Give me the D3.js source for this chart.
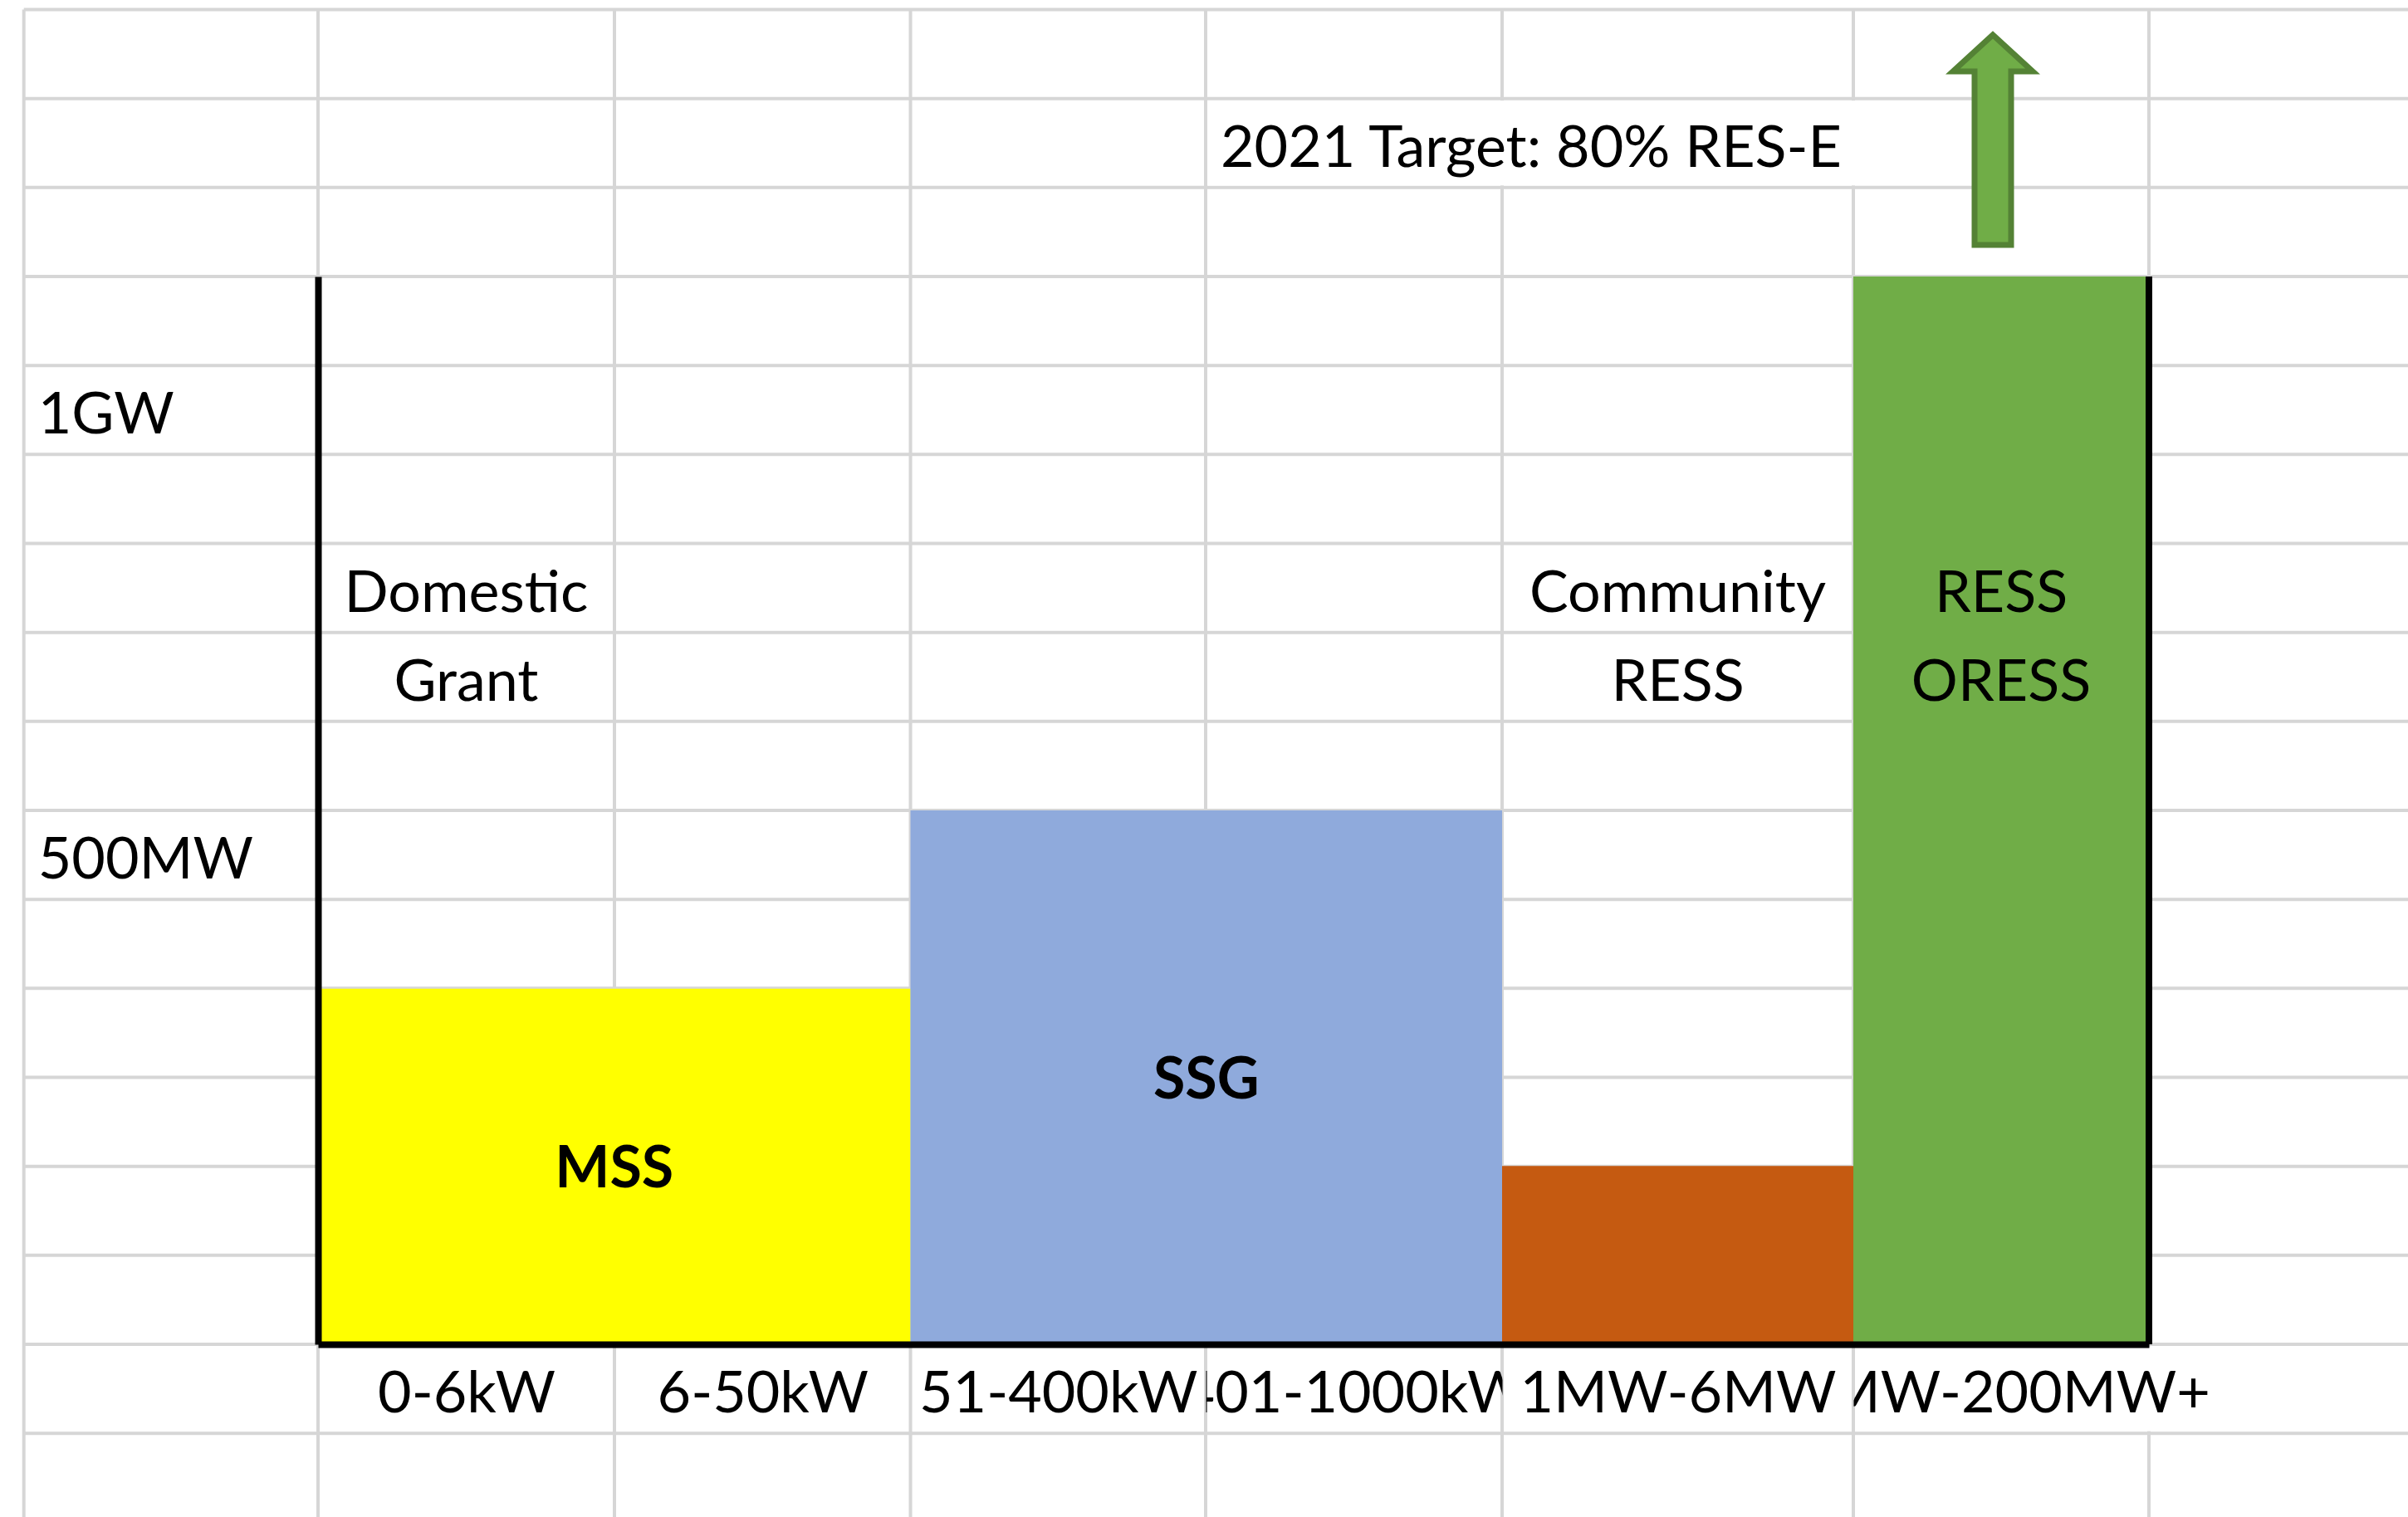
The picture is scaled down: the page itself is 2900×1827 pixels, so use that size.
<!DOCTYPE html>
<html>
<head>
<meta charset="utf-8">
<script src="https://cdn.jsdelivr.net/npm/d3@7"></script>
<style>
  body { margin: 0; background: #fff; }
  svg text { font-family: Lato, "Open Sans", sans-serif; fill: #000; }
</style>
</head>
<body>
<div id="graphic"></div>
<script>
// size bands along the bottom (one sheet column each)
var sizeBands = ["0-6kW", "6-50kW", "51-400kW", "401-1000kW", "1MW-6MW", "6MW-200MW+"];

// support schemes, the bands they cover and their capacity in MW
var schemes = ["MSS", "SSG", "Community RESS", "RESS ORESS"];
var schemeFrom = ["0-6kW", "51-400kW", "1MW-6MW", "6MW-200MW+"];
var schemeTo = ["6-50kW", "401-1000kW", "1MW-6MW", "6MW-200MW+"];
var schemeMW = [333, 500, 167, 1000];
var barLabels = ["MSS", "SSG", "", ""];

// y labels
var yTickMW = [1000, 500];
var yTickLabels = ["1GW", "500MW"];

// cell notes
var notes = [["Domestic", "Grant"], ["Community", "RESS"], ["RESS", "ORESS"]];
var noteBands = ["0-6kW", "1MW-6MW", "6MW-200MW+"];
var targetNote = "2021 Target: 80% RES-E";
var targetBand = "401-1000kW";

// styles
var schemeColors = ["#ffff00", "#8faadc", "#c55a11", "#70ad47"];
var gridColor = "#d6d6d6";
var fontSize = 70;

var width = 2900, height = 1827;

var svg = d3.select("#graphic").append("svg")
    .attr("width", width)
    .attr("height", height);

// sheet columns A..H, band i sits between x(i) and x(i+1)
var x = d3.scaleLinear()
    .domain(d3.range(-1, 8))
    .range([28.7, 383, 740, 1096.5, 1452, 1809, 2232, 2588, 2944]);

var y = d3.scaleLinear().domain([0, 1000]).range([1619, 333]);

// the sheet rows are 1/12 GW tall, line k counted from the top
var rowMW = 1000 / 12;
function lineY(k) { return y((15 - k) * rowMW); }
function rowBase(k) { return lineY(k + 1) - 25; }

// yTick rows (label sits in the cell row)
var yTickRows = [4, 9];

// grid
var grid = svg.append("g");
grid.selectAll(".h")
    .data(d3.range(0, 17))
    .enter().append("line")
    .attr("x1", x(-1)).attr("x2", width)
    .attr("y1", lineY).attr("y2", lineY)
    .attr("stroke", gridColor).attr("stroke-width", 4);
grid.selectAll(".v")
    .data(d3.range(-1, 8))
    .enter().append("line")
    .attr("x1", x).attr("x2", x)
    .attr("y1", lineY(0)).attr("y2", height)
    .attr("stroke", gridColor).attr("stroke-width", 4);

// overflowing text hides the grid in its cells
var ti = sizeBands.indexOf(targetBand);
svg.append("rect")
    .attr("x", x(ti) + 2.5).attr("width", x(ti + 2) - x(ti))
    .attr("y", lineY(1) + 2.5).attr("height", lineY(2) - lineY(1) - 5)
    .attr("fill", "#fff");
var li = sizeBands.length - 1;
svg.append("rect")
    .attr("x", x(li) + 2.5).attr("width", x(li + 2) - x(li))
    .attr("y", lineY(15) + 2.5).attr("height", lineY(16) - lineY(15) - 5)
    .attr("fill", "#fff");

// bars
var bars = svg.selectAll(".bar")
    .data(schemes)
    .enter().append("rect")
    .attr("class", "bar")
    .attr("x", function (d, i) { return x(sizeBands.indexOf(schemeFrom[i])); })
    .attr("width", function (d, i) {
        return x(sizeBands.indexOf(schemeTo[i]) + 1) - x(sizeBands.indexOf(schemeFrom[i]));
    })
    .attr("y", function (d, i) { return y(schemeMW[i]); })
    .attr("height", function (d, i) { return y(0) - y(schemeMW[i]); })
    .attr("fill", function (d, i) { return schemeColors[i]; });

svg.selectAll(".barLabel")
    .data(schemes)
    .enter().append("text")
    .attr("x", function (d, i) {
        return (x(sizeBands.indexOf(schemeFrom[i])) + x(sizeBands.indexOf(schemeTo[i]) + 1)) / 2;
    })
    .attr("y", function (d, i) { return (y(schemeMW[i]) + y(0)) / 2; })
    .attr("dy", "0.36em")
    .attr("text-anchor", "middle")
    .attr("font-size", fontSize)
    .attr("font-weight", "bold")
    .text(function (d, i) { return barLabels[i]; });

// arrow above the largest band
var last = schemes.length - 1;
var ax = (x(sizeBands.indexOf(schemeFrom[last])) + x(sizeBands.indexOf(schemeTo[last]) + 1)) / 2 - 10;
var aBottom = y(schemeMW[last]) - 38;
var aTip = aBottom - 253, aHead = aBottom - 209;
svg.append("path")
    .attr("d", d3.line()([
        [ax - 22, aBottom], [ax - 22, aHead], [ax - 48, aHead], [ax, aTip],
        [ax + 48, aHead], [ax + 22, aHead], [ax + 22, aBottom]
    ]) + "Z")
    .attr("fill", "#70ad47")
    .attr("stroke", "#548235")
    .attr("stroke-width", 7);

// frame
svg.append("g")
    .attr("transform", "translate(" + x(0) + ",0)")
    .call(d3.axisLeft(y).tickValues([]).tickSizeOuter(0))
    .select(".domain").attr("stroke", "#000").attr("stroke-width", 8);
svg.append("line")
    .attr("x1", x(sizeBands.length)).attr("x2", x(sizeBands.length))
    .attr("y1", y(0)).attr("y2", y(1000))
    .attr("stroke", "#000").attr("stroke-width", 8);

var xb = d3.scaleLinear()
    .domain(d3.range(0, sizeBands.length + 1))
    .range(d3.range(0, sizeBands.length + 1).map(x));

var xAxis = svg.append("g")
    .attr("transform", "translate(0," + y(0) + ")")
    .call(d3.axisBottom(xb)
        .tickValues(d3.range(0.5, sizeBands.length))
        .tickFormat(function (d) { return sizeBands[Math.floor(d)]; })
        .tickSize(0)
        .tickSizeOuter(0));
xAxis.select(".domain").attr("stroke", "#000").attr("stroke-width", 8);

var defs = svg.append("defs");
xAxis.selectAll(".tick").each(function (d) {
    var i = Math.floor(d);
    var left = x(i) - xb(d);
    var right = (i === sizeBands.length - 1 ? width : x(i + 1)) - xb(d);
    defs.append("clipPath").attr("id", "clip" + i)
        .append("rect")
        .attr("x", left).attr("width", right - left)
        .attr("y", 0).attr("height", lineY(16) - y(0));
    d3.select(this).select("text")
        .attr("clip-path", "url(#clip" + i + ")");
});
xAxis.selectAll("text")
    .attr("y", rowBase(15) - y(0))
    .attr("dy", null)
    .attr("font-size", fontSize)
    .attr("font-family", null)
    .attr("fill", "#000");

// y labels
svg.selectAll(".yLabel")
    .data(yTickLabels)
    .enter().append("text")
    .attr("x", x(-1) + 17)
    .attr("y", function (d, i) { return rowBase(yTickRows[i]); })
    .attr("font-size", fontSize)
    .text(function (d) { return d; });

// notes in cells
notes.forEach(function (lines, n) {
    var bi = sizeBands.indexOf(noteBands[n]);
    svg.selectAll(null)
        .data(lines)
        .enter().append("text")
        .attr("x", (x(bi) + x(bi + 1)) / 2)
        .attr("y", function (d, j) { return rowBase(6 + j); })
        .attr("text-anchor", "middle")
        .attr("font-size", fontSize)
        .text(function (d) { return d; });
});

svg.append("text")
    .attr("x", x(ti) + 18)
    .attr("y", rowBase(1))
    .attr("font-size", fontSize)
    .text(targetNote);
</script>
</body>
</html>
